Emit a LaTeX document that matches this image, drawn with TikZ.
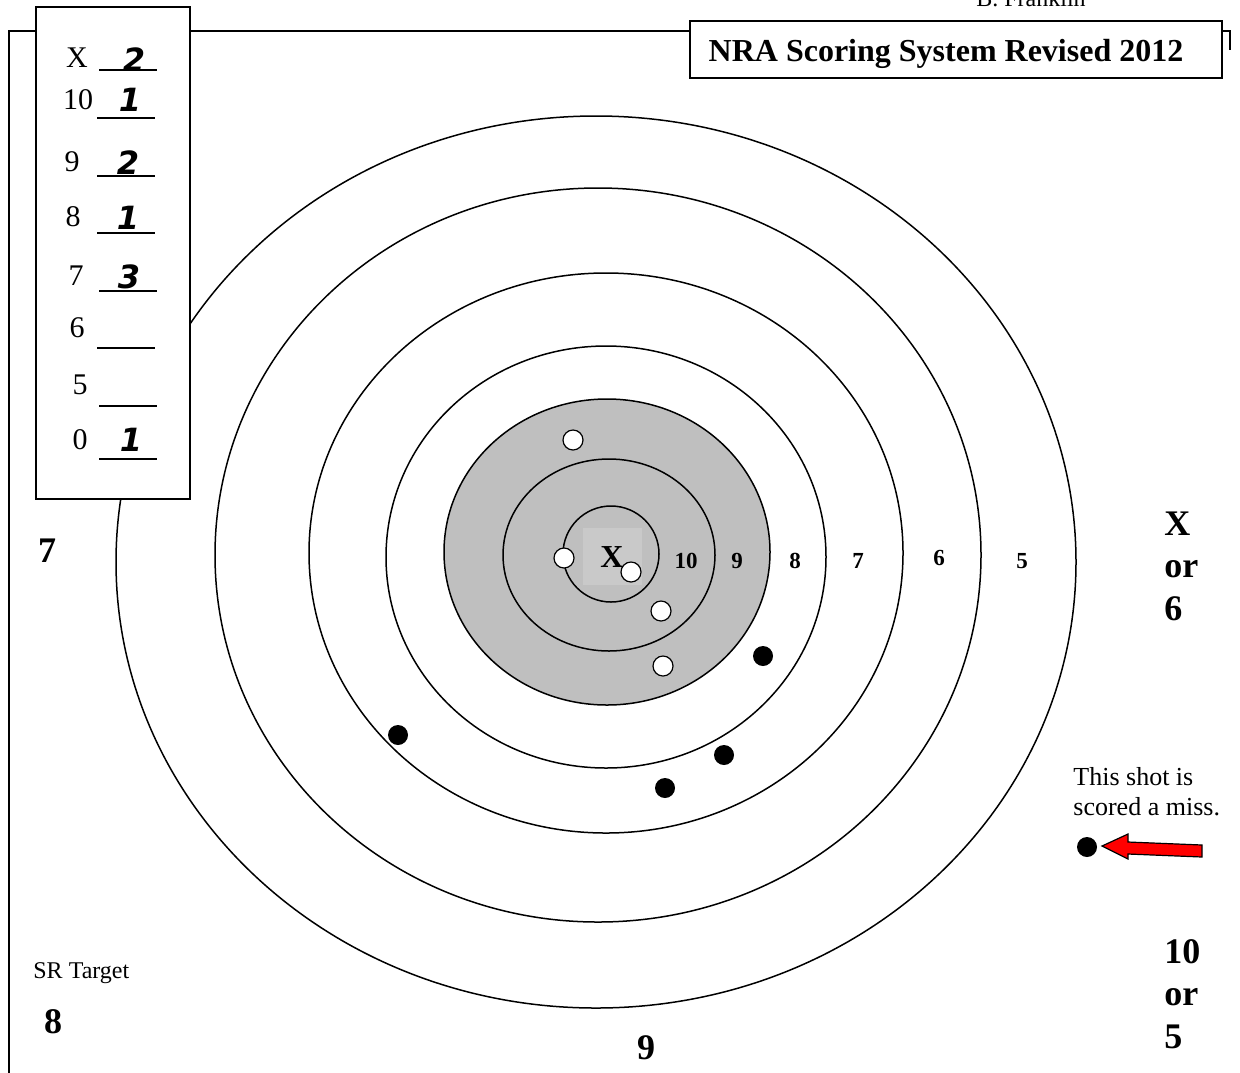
\documentclass[tikz,border=0pt]{standalone}
\usepackage{fontspec}
\setmainfont{Liberation Serif}
\newfontfamily\handfont{DejaVu Sans}
\begin{document}
\begin{tikzpicture}[x=0.5pt,y=-0.5pt,
  ring/.style={line width=0.75pt},
  boxline/.style={line width=1pt},
  lbl/.style={inner sep=0pt, font=\fontsize{11.5}{13}\selectfont\bfseries},
  big/.style={inner sep=0pt, font=\fontsize{18}{21}\selectfont\bfseries},
  card/.style={inner sep=0pt, font=\fontsize{15}{18}\selectfont},
  hand/.style={inner sep=0pt, font=\fontsize{16}{18}\handfont\bfseries\itshape},
  note/.style={inner sep=0pt, font=\fontsize{13}{15}\selectfont},
  hole/.style={circle, draw, line width=0.6pt, fill=white, minimum size=10pt, inner sep=0pt},
  hit/.style={circle, fill=black, minimum size=10pt, inner sep=0pt},
]
\useasboundingbox (0,0) rectangle (1240,1072);
% frame
\draw[boxline] (9,1080) -- (9,31) -- (1230,31) -- (1230,50);
% target
\fill[black!25] (607,552) ellipse [x radius=163, y radius=153];
\fill[black!21] (583,528) rectangle (642,585);
\draw[ring] (596,562) ellipse [x radius=480, y radius=446];
\draw[ring] (598,555) ellipse [x radius=383, y radius=367];
\draw[ring] (606,553) ellipse [x radius=297, y radius=280];
\draw[ring] (606,557) ellipse [x radius=220, y radius=211];
\draw[ring] (607,552) ellipse [x radius=163, y radius=153];
\draw[ring] (609,555) ellipse [x radius=106, y radius=96];
\draw[ring] (611,554) ellipse [x radius=48, y radius=48];
% ring labels
\node[inner sep=0pt, font=\fontsize{16}{18}\selectfont\bfseries] (lx) at (612,557) {X};
\node[lbl] (l10) at (686,561) {10};
\node[lbl] (l9) at (737,561) {9};
\node[lbl] (l8) at (795,561) {8};
\node[lbl] (l7) at (858,561) {7};
\node[lbl] (l6) at (939,558) {6};
\node[lbl] (l5) at (1022,561) {5};
% shots
\node[hole] (w1) at (573,440) {};
\node[hole] (w2) at (564,558) {};
\node[hole] (w3) at (631,572) {};
\node[hole] (w4) at (661,611) {};
\node[hole] (w5) at (663,666) {};
\node[hit] (b1) at (763,656) {};
\node[hit] (b2) at (398,735) {};
\node[hit] (b3) at (724,755) {};
\node[hit] (b4) at (665,788) {};
\node[hit] (miss) at (1087,847) {};
% red arrow
\draw[fill=red, line width=0.6pt, line join=miter] (1102,846) -- (1128,834) -- (1128,842) -- (1202,845) -- (1202,857) -- (1128,854) -- (1128,859) -- cycle;
% notes
\node[note, anchor=base west] (n1) at (1073,785) {This shot is};
\node[note, anchor=base west] (n2) at (1073,815) {scored a miss.};
\node[inner sep=0pt, font=\fontsize{12}{14}\selectfont, anchor=base] (author) at (1031,6) {B. Franklin};
\node[inner sep=0pt, font=\fontsize{12}{14}\selectfont, anchor=base west] (sr) at (33,978) {SR Target};
% outer labels
\node[big] (o7) at (47,551) {7};
\node[big] (o8) at (53,1022) {8};
\node[big] (o9) at (646,1048) {9};
\node[big, anchor=base west] (r1) at (1164,535) {X};
\node[big, anchor=base west] (r2) at (1164,577) {or};
\node[big, anchor=base west] (r3) at (1164,620) {6};
\node[big, anchor=base west] (s1) at (1164,963) {10};
\node[big, anchor=base west] (s2) at (1164,1005) {or};
\node[big, anchor=base west] (s3) at (1164,1048) {5};
% title box
\draw[boxline, fill=white] (690,21) rectangle (1222,78);
\node[inner sep=0pt, anchor=base, font=\fontsize{16}{18}\selectfont\bfseries] (title) at (946,61) {NRA Scoring System Revised 2012};
% score card
\draw[boxline, fill=white] (36,7) rectangle (190,499);
\node[card] (cX) at (77,58) {X};
\node[card] (c10) at (78,100) {10};
\node[card] (c9) at (72,162) {9};
\node[card] (c8) at (73,217) {8};
\node[card] (c7) at (76,276) {7};
\node[card] (c6) at (77,328) {6};
\node[card] (c5) at (80,385) {5};
\node[card] (c0) at (80,440) {0};
\node[hand] (hX) at (134,60) {2};
\node[hand] (h10) at (130,100) {1};
\node[hand] (h9) at (128,163) {2};
\node[hand] (h8) at (128,218) {1};
\node[hand] (h7) at (129,277) {3};
\node[hand] (h0) at (131,440) {1};
\draw[line width=0.75pt] (99,70) -- (157,70);
\draw[line width=0.75pt] (97,118) -- (155,118);
\draw[line width=0.75pt] (97,176) -- (155,176);
\draw[line width=0.75pt] (97,233) -- (155,233);
\draw[line width=0.75pt] (99,291) -- (157,291);
\draw[line width=0.75pt] (97,348) -- (155,348);
\draw[line width=0.75pt] (99,406) -- (157,406);
\draw[line width=0.75pt] (99,459) -- (157,459);
\end{tikzpicture}
\end{document}
